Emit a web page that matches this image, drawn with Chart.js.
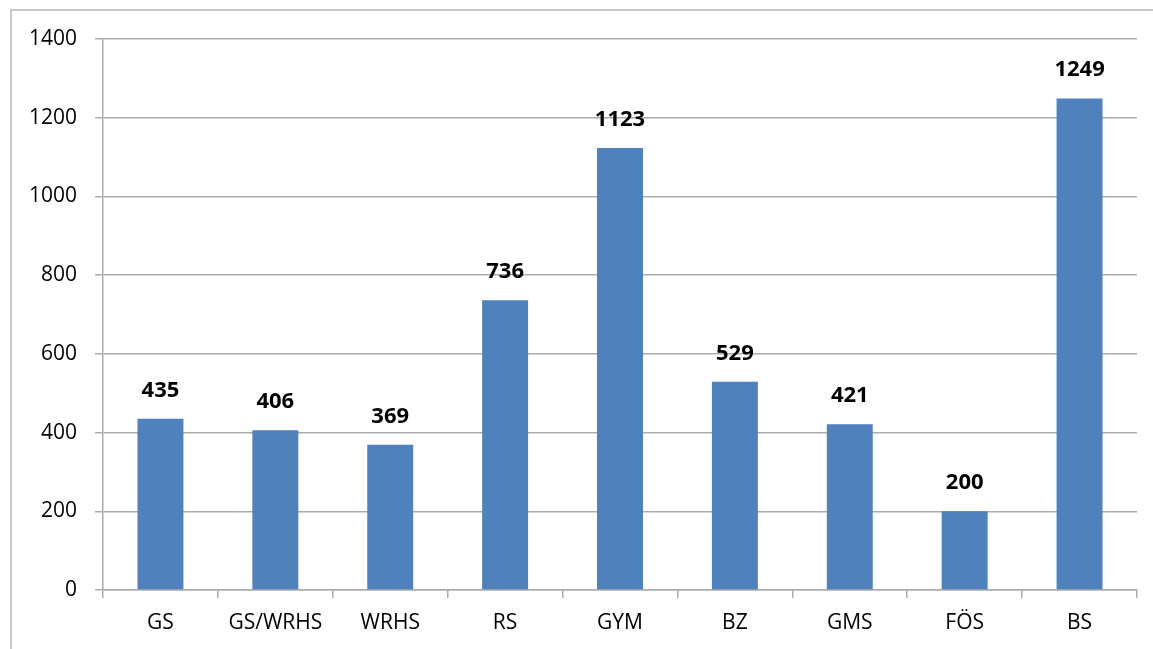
<!DOCTYPE html>
<html>
<head>
<meta charset="utf-8">
<script src="https://cdn.jsdelivr.net/npm/chart.js@4/dist/chart.umd.min.js"></script>
<style>
  html, body { margin: 0; padding: 0; background: #fff; overflow: hidden; }
  #wrap { position: relative; width: 1153px; height: 649px; }
  #frame {
    position: absolute; left: 10px; top: 9px; right: -5px; bottom: -5px;
    border-top: 2px solid #C9C9C9; border-left: 2px solid #C9C9C9;
    pointer-events: none;
  }
</style>
</head>
<body>
<div id="wrap">
  <canvas id="myChart" width="1153" height="649"></canvas>
  <div id="frame"></div>
</div>
<script>
// --------------------
// Data
// --------------------
const categories = ["GS", "GS/WRHS", "WRHS", "RS", "GYM", "BZ", "GMS", "FÖS", "BS"];
const pupils = [435, 406, 369, 736, 1123, 529, 421, 200, 1249];

// y axis range
const yMin = 0;
const yMax = 1400;
const yStep = 200;

const barColor = "#4F81BD";
const gridColor = "#ABABAB";
const textColor = "#000";

// --------------------
// Value labels above the bars
// --------------------
const valueLabels = {
  id: "valueLabels",
  afterDatasetsDraw(chart) {
    const ctx = chart.ctx;
    const meta = chart.getDatasetMeta(0);
    ctx.save();
    ctx.font = "bold 22px 'Open Sans', sans-serif";
    ctx.fillStyle = "#000";
    ctx.textAlign = "center";
    ctx.textBaseline = "alphabetic";
    meta.data.forEach((bar, i) => {
      ctx.fillText(String(pupils[i]), bar.x, bar.y - 22);
    });
    ctx.restore();
  }
};

// --------------------
// Build chart
// --------------------
const ctx = document.getElementById("myChart").getContext("2d");

new Chart(ctx, {
  type: "bar",
  data: {
    labels: categories,
    datasets: [{
      data: pupils,
      backgroundColor: barColor,
      borderWidth: 0,
      barPercentage: 0.4,
      categoryPercentage: 1
    }]
  },
  options: {
    responsive: false,
    animation: false,
    layout: { padding: { top: 39, right: 16, left: 0, bottom: 0 } },
    plugins: {
      legend: { display: false },
      tooltip: { enabled: false }
    },
    scales: {
      x: {
        offset: true,
        grid: {
          display: true,
          drawOnChartArea: false,
          drawTicks: true,
          tickLength: 8,
          color: gridColor,
          lineWidth: 1.5
        },
        border: { display: true, color: gridColor, width: 1.5 },
        ticks: {
          color: textColor,
          font: { family: "'Open Sans', sans-serif", size: 21 },
          padding: 12,
          maxRotation: 0,
          autoSkip: false
        },
        afterFit(scale) { scale.height = 59; }
      },
      y: {
        min: yMin,
        max: yMax,
        grid: {
          color: gridColor,
          lineWidth: 1.5,
          drawTicks: true,
          tickLength: 8
        },
        border: { display: true, color: gridColor, width: 1.5 },
        ticks: {
          stepSize: yStep,
          color: textColor,
          font: { family: "'Open Sans', sans-serif", size: 21 },
          padding: 18,
          callback: (v) => String(v)
        },
        afterFit(scale) { scale.width = 103; }
      }
    }
  },
  plugins: [valueLabels]
});
</script>
</body>
</html>
